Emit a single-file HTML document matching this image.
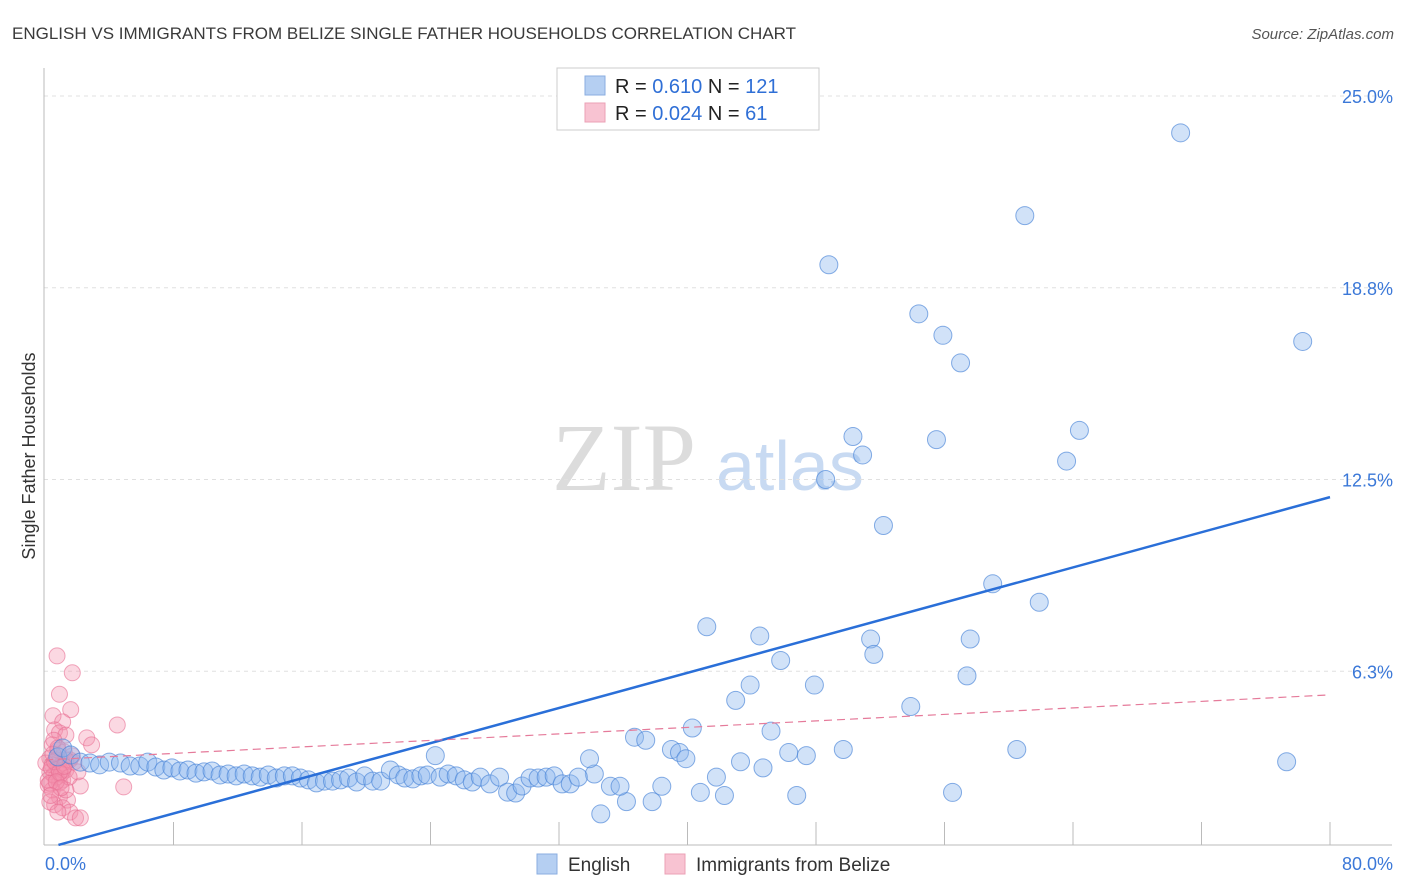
<!DOCTYPE html>
<html><head><meta charset="utf-8"><style>
body{margin:0;background:#fff;font-family:"Liberation Sans",sans-serif}
svg{display:block}
</style></head><body>
<svg id="chart" width="1406" height="892" xmlns="http://www.w3.org/2000/svg">
<text x="12" y="39" font-size="17" fill="#3a3a3a">ENGLISH VS IMMIGRANTS FROM BELIZE SINGLE FATHER HOUSEHOLDS CORRELATION CHART</text>
<text x="1394" y="39" font-size="15" fill="#555" text-anchor="end" font-style="italic">Source: ZipAtlas.com</text>
<text x="35" y="456" font-size="18" fill="#333" text-anchor="middle" transform="rotate(-90 35 456)">Single Father Households</text>
<g>
<text x="552" y="490" font-size="96" font-family="Liberation Serif,serif" fill="#dcdcdc">ZIP</text>
<text x="716" y="490" font-size="70" fill="#c8daf2">atlas</text>
</g>
<g id="grid"></g>
<g id="axes"></g>
<g id="pts"></g>
<g id="lines"></g>
<g>
<rect x="557" y="68" width="262" height="62" fill="#fff" stroke="#ccc"/>
<rect x="585" y="76" width="20" height="19" fill="#b5cff2" stroke="#8aaee0"/>
<text x="615" y="93" font-size="20" fill="#222">R = <tspan fill="#2f6fd6">0.610</tspan>   N = <tspan fill="#2f6fd6">121</tspan></text>
<rect x="585" y="103" width="20" height="19" fill="#f8c3d2" stroke="#eba0b6"/>
<text x="615" y="120" font-size="20" fill="#222">R = <tspan fill="#2f6fd6">0.024</tspan>   N = <tspan fill="#2f6fd6">  61</tspan></text>
</g>
<g>
<rect x="537" y="854" width="20" height="20" fill="#b5cff2" stroke="#8aaee0"/>
<text x="568" y="871" font-size="19" fill="#333">English</text>
<rect x="665" y="854" width="20" height="20" fill="#f8c3d2" stroke="#eba0b6"/>
<text x="696" y="871" font-size="19" fill="#333">Immigrants from Belize</text>
</g>
</svg>
<script>
const yTicks=[6.25,12.5,18.75,25];
const yTickLabels=["6.3%","12.5%","18.8%","25.0%"];
const xTicks=[8,16,24,32,40,48,56,64,72,80];
const englishX=[70.7,61.0,48.8,54.4,55.9,57.0,78.3,50.3,55.5,64.4,50.9,63.6,48.6,52.2,59.0,61.9,41.2,44.5,51.4,57.6,51.6,45.8,57.4,43.9,47.9,43.0,53.9,40.3,45.2,36.7,37.4,39.0,39.5,39.9,46.3,47.4,49.7,60.5,43.3,44.7,41.8,77.3,40.8,42.3,46.8,56.5,38.4,36.2,37.8,34.6,35.2,35.8,34.2,33.9,24.3,
0.8,1.1,1.6,2.2,2.8,3.4,4.0,4.7,5.3,5.9,6.4,6.9,7.4,7.9,8.4,8.9,9.4,9.9,10.4,10.9,11.4,11.9,12.4,12.9,13.4,13.9,14.4,14.9,15.4,15.9,16.4,16.9,17.4,17.9,18.4,18.9,19.4,19.9,20.4,20.9,21.5,22.0,22.4,22.9,23.4,23.8,24.6,25.1,25.6,26.1,26.6,27.1,27.7,28.3,28.8,29.3,29.7,30.2,30.7,31.2,31.7,32.2,32.7,33.2];
const englishY=[23.8,21.1,19.5,17.9,17.2,16.3,17.0,13.9,13.8,14.1,13.3,13.1,12.5,11.0,9.1,8.5,7.7,7.4,7.3,7.3,6.8,6.6,6.1,5.8,5.8,5.3,5.1,4.4,4.3,4.1,4.0,3.7,3.6,3.4,3.6,3.5,3.7,3.7,3.3,3.1,2.8,3.3,2.3,2.2,2.2,2.3,2.5,2.0,2.0,1.6,2.5,2.5,2.9,3.4,3.5,
3.46,3.75,3.52,3.29,3.26,3.20,3.29,3.26,3.16,3.16,3.29,3.13,3.03,3.10,3.00,3.03,2.93,2.97,3.00,2.87,2.90,2.84,2.90,2.84,2.80,2.87,2.77,2.84,2.84,2.77,2.71,2.61,2.67,2.67,2.71,2.77,2.64,2.84,2.67,2.67,3.03,2.87,2.77,2.74,2.84,2.87,2.80,2.90,2.84,2.71,2.64,2.80,2.58,2.80,2.31,2.28,2.51,2.77,2.77,2.80,2.84,2.58,2.58,2.80];
const belizeX=[0.75,1.7,0.9,1.6,0.5,1.1,0.6,0.9,1.3,4.5,2.6,2.9,0.45,0.8,1.2,0.3,0.7,1.1,1.55,0.45,0.8,1.3,1.8,0.3,0.7,1.1,0.2,0.9,2.2,4.9,0.45,0.9,1.4,0.6,1.1,1.55,1.9,0.3,1.3,1.7,0.55,0.8,1.1,0.55,2.05,0.05,0.2,1.3,0.8,2.2,0.4,1.0,0.6,1.5,0.3,0.9,1.2,0.7,0.5,1.0,0.35];
const belizeY=[6.75,6.2,5.5,5.0,4.8,4.6,4.34,4.24,4.17,4.5,4.08,3.85,3.85,3.68,3.62,3.42,3.36,3.26,3.36,3.2,3.1,3.03,3.29,2.97,2.8,2.7,2.54,2.61,2.51,2.48,2.38,2.15,2.05,1.9,1.8,1.66,1.47,1.99,3.36,3.49,4.0,3.75,3.03,2.87,2.97,3.26,2.7,2.38,1.66,1.47,3.1,2.9,3.3,2.8,2.6,2.95,3.15,2.65,3.55,2.45,2.2];
const englishTrend=[0.47,0.1432];
const belizeTrend=[3.36,0.0265];
const X0=45,X1=1330,Y0=863,PLOT_BOTTOM=845;
const sx=v=>X0+v/80*(X1-X0);
const sy=v=>Y0-v*(Y0-96)/25;
const NS="http://www.w3.org/2000/svg";
function mk(tag,attrs,parent){const e=document.createElementNS(NS,tag);for(const k in attrs)e.setAttribute(k,attrs[k]);parent.appendChild(e);return e;}
const grid=document.getElementById('grid'),axes=document.getElementById('axes'),pts=document.getElementById('pts'),lines=document.getElementById('lines');
yTicks.forEach((t,i)=>{
 const l=mk('line',{x1:44,x2:1392,y1:sy(t),y2:sy(t),stroke:'#e0e0e0','stroke-dasharray':'4,4'},grid);
 
 
 const tx=mk('text',{x:1393,y:sy(t)+7,'font-size':18,fill:'#3b78d8','text-anchor':'end'},axes);
 tx.textContent=yTickLabels[i];
 
 
});
const ya=mk('line',{x1:44,x2:44,y1:68,y2:PLOT_BOTTOM,stroke:'#bbb'},axes);


const xa=mk('line',{x1:44,x2:1392,y1:PLOT_BOTTOM,y2:PLOT_BOTTOM,stroke:'#bbb'},axes);


xTicks.forEach(t=>{
 const l=mk('line',{x1:sx(t),x2:sx(t),y1:822,y2:PLOT_BOTTOM,stroke:'#bbb'},axes);
 
 
});
const xl0=mk('text',{x:45,y:870,'font-size':18,fill:'#3b78d8'},axes);xl0.textContent='0.0%';


const xl1=mk('text',{x:1393,y:870,'font-size':18,fill:'#3b78d8','text-anchor':'end'},axes);xl1.textContent='80.0%';


belizeX.forEach((x,i)=>{
 const c=mk('circle',{cx:sx(x),cy:sy(belizeY[i]),r:8,fill:'rgba(244,143,172,0.35)',stroke:'rgba(232,110,146,0.6)'},pts);
 
 
});
englishX.forEach((x,i)=>{
 const c=mk('circle',{cx:sx(x),cy:sy(englishY[i]),r:9,fill:'rgba(140,182,238,0.4)',stroke:'rgba(70,130,215,0.65)'},pts);
 
 
});
const xs=(0.59-englishTrend[0])/englishTrend[1];
const et=mk('line',{x1:sx(Math.max(xs,0)),y1:sy(englishTrend[0]+englishTrend[1]*Math.max(xs,0)),x2:sx(80),y2:sy(englishTrend[0]+englishTrend[1]*80),stroke:'#2a6fd8','stroke-width':2.5},lines);


const bt=mk('line',{x1:sx(0),y1:sy(belizeTrend[0]),x2:sx(80),y2:sy(belizeTrend[0]+belizeTrend[1]*80),stroke:'#e57a9a','stroke-width':1.2,'stroke-dasharray':'8,5'},lines);


</script>
</body></html>
